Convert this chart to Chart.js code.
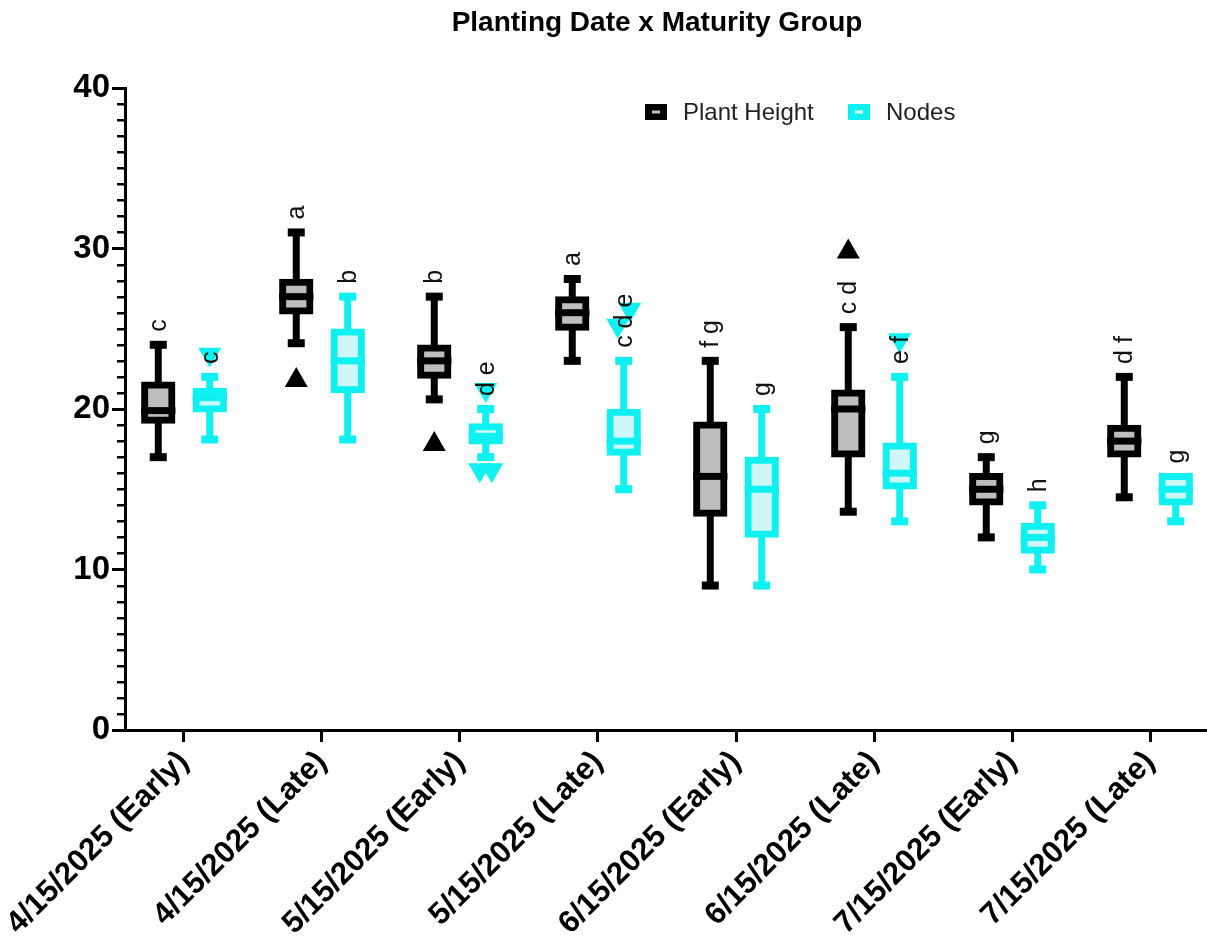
<!DOCTYPE html>
<html>
<head>
<meta charset="utf-8">
<script src="https://cdn.jsdelivr.net/npm/chart.js@4.4.1/dist/chart.umd.min.js"></script>
<style>
html, body { margin: 0; padding: 0; background: #ffffff; }
#wrap { width: 1207px; height: 951px; position: relative; }
</style>
</head>
<body>
<div id="wrap"><canvas id="chart"></canvas></div>
<script>
// ---------------- data ----------------
const categories = ['4/15/2025 (Early)', '4/15/2025 (Late)', '5/15/2025 (Early)', '5/15/2025 (Late)',
                    '6/15/2025 (Early)', '6/15/2025 (Late)', '7/15/2025 (Early)', '7/15/2025 (Late)'];
const seriesNames = ['Plant Height', 'Nodes'];
const chartTitle = 'Planting Date x Maturity Group';

const heightMin      = [17.0, 24.1, 20.6, 23.0,  9.0, 13.6, 12.0, 14.5];
const heightQ1       = [19.3, 26.1, 22.1, 25.1, 13.5, 17.2, 14.2, 17.2];
const heightMedian   = [19.9, 27.0, 23.0, 26.0, 15.8, 20.0, 15.0, 18.0];
const heightQ3       = [21.5, 27.9, 23.8, 26.8, 19.0, 21.0, 15.8, 18.8];
const heightMax      = [24.0, 31.0, 27.0, 28.1, 23.0, 25.1, 17.0, 22.0];
const heightOutliers = [[], [22.0], [18.0], [], [], [30.0], [], []];
const heightLetters  = ['c', 'a', 'b', 'a', 'f g', 'c d', 'g', 'd f'];

const nodesMin      = [18.1, 18.1, 17.0, 15.0,  9.0, 13.0, 10.0, 13.0];
const nodesQ1       = [20.0, 21.2, 18.0, 17.3, 12.2, 15.2, 11.2, 14.2];
const nodesMedian   = [20.7, 23.0, 18.3, 18.0, 15.0, 16.0, 12.0, 15.0];
const nodesQ3       = [21.1, 24.8, 18.9, 19.8, 16.8, 17.7, 12.7, 15.8];
const nodesMax      = [22.0, 27.0, 20.0, 23.0, 20.0, 22.0, 14.0, 15.8];
const nodesOutliers = [[23.2], [], [21.0, 16.0, 16.0], [26.0, 25.0], [], [24.1], [], []];
const nodesLetters  = ['c', 'b', 'd e', 'c d e', 'g', 'e f', 'h', 'g'];

const yMajorTicks = [0, 10, 20, 30, 40];

// ---------------- styles ----------------
const FONT = "'Liberation Sans', Arial, Helvetica, sans-serif";
const series = [
  { label: seriesNames[0], min: heightMin, q1: heightQ1, med: heightMedian, q3: heightQ3, max: heightMax,
    out: heightOutliers, letters: heightLetters, border: '#000000', fill: '#bebebe', dash: '#c4c4c4', marker: 'up' },
  { label: seriesNames[1], min: nodesMin, q1: nodesQ1, med: nodesMedian, q3: nodesQ3, max: nodesMax,
    out: nodesOutliers, letters: nodesLetters, border: '#0ff0f0', fill: '#cff7f7', dash: '#d8fbfb', marker: 'down' }
];

function triangle(ctx, x, y, dir, color) {
  const w = 23, h = 20;
  ctx.beginPath();
  if (dir === 'up') {
    ctx.moveTo(x, y - h / 2); ctx.lineTo(x + w / 2, y + h / 2); ctx.lineTo(x - w / 2, y + h / 2);
  } else {
    ctx.moveTo(x - w / 2, y - h / 2); ctx.lineTo(x + w / 2, y - h / 2); ctx.lineTo(x, y + h / 2);
  }
  ctx.closePath();
  ctx.fillStyle = color;
  ctx.fill();
}

const boxPlugin = {
  id: 'boxParts',
  beforeDatasetsDraw(chart) {
    const ctx = chart.ctx, ys = chart.scales.y;
    ctx.save();
    series.forEach((s, di) => {
      chart.getDatasetMeta(di).data.forEach((bar, i) => {
        const x = bar.x;
        const pMin = ys.getPixelForValue(s.min[i]);
        const pMax = ys.getPixelForValue(s.max[i]);
        ctx.strokeStyle = s.border;
        ctx.lineCap = 'butt';
        ctx.lineWidth = 7;
        ctx.beginPath(); ctx.moveTo(x, pMax); ctx.lineTo(x, pMin); ctx.stroke();
        ctx.lineWidth = 8;
        if (s.max[i] > s.q3[i]) { ctx.beginPath(); ctx.moveTo(x - 8.5, pMax); ctx.lineTo(x + 8.5, pMax); ctx.stroke(); }
        if (s.min[i] < s.q1[i]) { ctx.beginPath(); ctx.moveTo(x - 8.5, pMin); ctx.lineTo(x + 8.5, pMin); ctx.stroke(); }
      });
    });
    ctx.restore();
  },
  afterDatasetsDraw(chart) {
    const ctx = chart.ctx, ys = chart.scales.y;
    ctx.save();
    series.forEach((s, di) => {
      chart.getDatasetMeta(di).data.forEach((bar, i) => {
        const x = bar.x, half = bar.width / 2 + 3.5;
        // median
        const pMed = ys.getPixelForValue(s.med[i]);
        ctx.fillStyle = s.border;
        ctx.fillRect(x - half, pMed - 3.5, half * 2, 7);
        // outliers (spread overlapping ones sideways)
        const vals = s.out[i].slice().sort((a, b) => a - b);
        let k = 0;
        while (k < vals.length) {
          let j = k;
          while (j + 1 < vals.length && vals[j + 1] - vals[k] < 1.3) j++;
          const n = j - k + 1;
          for (let m = k; m <= j; m++) {
            const off = (m - k - (n - 1) / 2) * 12;
            triangle(ctx, x + off, ys.getPixelForValue(vals[m]), s.marker, s.border);
          }
          k = j + 1;
        }
        // significance letters
        const pTop = ys.getPixelForValue(s.max[i]);
        ctx.save();
        ctx.translate(x + 1, pTop - 13);
        ctx.rotate(-Math.PI / 2);
        ctx.font = `25px ${FONT}`;
        ctx.fillStyle = '#111111';
        ctx.textAlign = 'left';
        ctx.textBaseline = 'middle';
        ctx.fillText(s.letters[i], 0, 0);
        ctx.restore();
      });
    });
    ctx.restore();
  },
  afterDraw(chart) {
    const ctx = chart.ctx, ys = chart.scales.y, area = chart.chartArea;
    ctx.save();
    // minor y ticks
    ctx.strokeStyle = '#000'; ctx.lineWidth = 2.5;
    for (let v = ys.min; v <= ys.max; v += 1) {
      if (yMajorTicks.includes(v)) continue;
      const p = Math.round(ys.getPixelForValue(v)) + 0.25;
      ctx.beginPath(); ctx.moveTo(area.left - 8, p); ctx.lineTo(area.left, p); ctx.stroke();
    }
    // title
    ctx.font = `bold 28px ${FONT}`;
    ctx.fillStyle = '#000';
    ctx.textAlign = 'center'; ctx.textBaseline = 'middle';
    ctx.fillText(chartTitle, 657, 23);
    // legend
    const legendX = [645, 848];
    series.forEach((s, di) => {
      const lx = legendX[di], ly = 112;
      ctx.fillStyle = s.border;
      ctx.fillRect(lx, ly - 8, 22, 16);
      ctx.fillStyle = s.dash;
      ctx.fillRect(lx + 7, ly - 1.5, 8, 3);
      ctx.fillStyle = '#222222';
      ctx.font = `24px ${FONT}`;
      ctx.textAlign = 'left'; ctx.textBaseline = 'middle';
      ctx.fillText(s.label, lx + 38, ly + 1);
    });
    ctx.restore();
  }
};

new Chart(document.getElementById('chart'), {
  type: 'bar',
  data: {
    datasets: series.map(s => ({
      label: s.label,
      data: categories.map((c, i) => ({ x: i, y: [s.q1[i], s.q3[i]] })),
      backgroundColor: s.fill,
      borderColor: s.border,
      borderWidth: 7,
      borderSkipped: false,
      inflateAmount: 3.5,
      categoryPercentage: 0.746,
      barPercentage: 0.53
    }))
  },
  options: {
    responsive: true,
    maintainAspectRatio: false,
    animation: false,
    layout: { padding: { top: 88, left: 0, right: 0, bottom: 0 } },
    plugins: { legend: { display: false }, title: { display: false }, tooltip: { enabled: false } },
    scales: {
      x: {
        type: 'linear',
        min: -0.4275,
        max: 7.413,
        offset: false,
        afterBuildTicks: ax => { ax.ticks = categories.map((c, i) => ({ value: i })); },
        afterFit: ax => { ax.height = 221; ax.paddingLeft = 0; ax.paddingRight = 0; },
        grid: { offset: false, drawOnChartArea: false, drawTicks: true, tickLength: 12, tickWidth: 3, tickColor: '#000' },
        border: { display: true, color: '#000', width: 3 },
        ticks: {
          autoSkip: false, maxRotation: 45, minRotation: 45, padding: 2, color: '#000',
          font: { family: FONT, size: 31, weight: 'bold' },
          callback: v => categories[Math.round(v)]
        }
      },
      y: {
        min: 0,
        max: 40,
        afterFit: ax => { ax.width = 125; ax.paddingTop = 0; ax.paddingBottom = 0; },
        grid: {
          drawOnChartArea: false, drawTicks: true, tickLength: 13, tickWidth: 3,
          tickColor: c => (c.tick && yMajorTicks.includes(c.tick.value)) ? '#000' : 'rgba(0,0,0,0)'
        },
        border: { display: true, color: '#000', width: 3 },
        ticks: {
          stepSize: 1, autoSkip: false, padding: 2, color: '#000',
          font: { family: FONT, size: 33, weight: 'bold' },
          callback: v => yMajorTicks.includes(v) ? String(v) : ''
        }
      }
    }
  },
  plugins: [boxPlugin]
});
</script>
</body>
</html>
